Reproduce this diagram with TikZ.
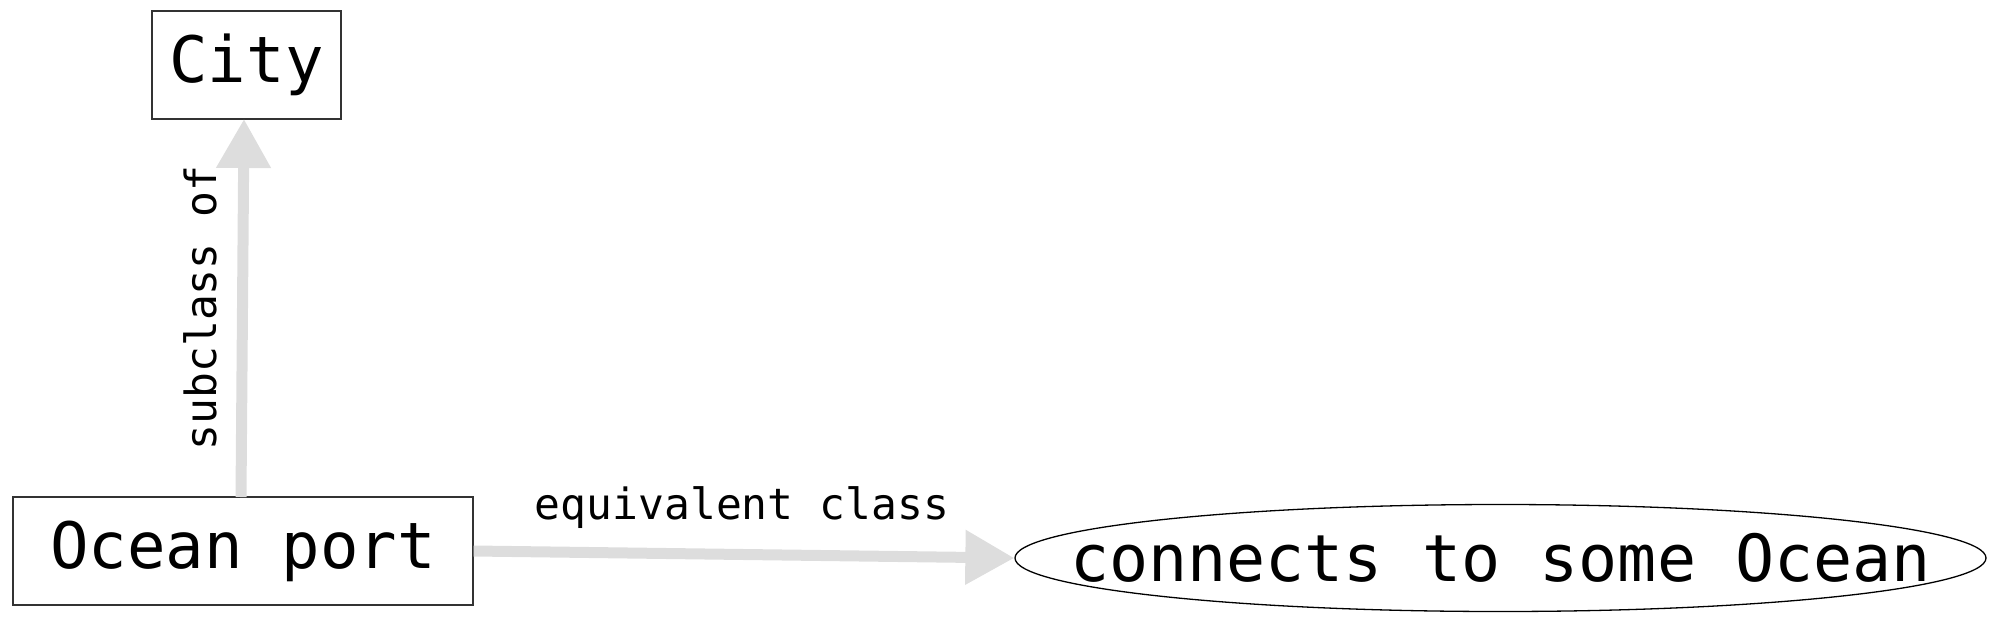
\documentclass[tikz,border=0pt]{standalone}
\usepackage{fontspec}
\newfontfamily\monofnt{DejaVu Sans Mono}
\usetikzlibrary{arrows.meta,shapes.geometric}
\definecolor{edgegray}{HTML}{DDDDDD}
\definecolor{boxline}{HTML}{333333}
\tikzset{
  classbox/.style={draw=boxline, line width=1.3pt, rectangle, inner sep=0pt, font=\monofnt\fontsize{64}{70}\selectfont},
  classell/.style={draw=black, line width=1.3pt, ellipse, inner sep=0pt, font=\monofnt\fontsize{65}{70}\selectfont},
  relarrow/.style={draw=edgegray, line width=11pt, -{Triangle[length=49pt,width=52pt]}},
  rellabel/.style={font=\monofnt\fontsize{43}{48}\selectfont, inner sep=0pt}
}
\begin{document}
\begin{tikzpicture}[x=1pt,y=-1pt]
\useasboundingbox (0,0) rectangle (2000,627);
\node[classbox, minimum width=189pt, minimum height=108pt] (city) at (246.5,65) {City};
\node[classbox, minimum width=460pt, minimum height=108pt] (port) at (243,551) {Ocean port};
\node[classell, minimum width=971pt, minimum height=107pt] (ocean) at (1500.5,558) {\makebox[0pt][c]{connects to some Ocean}};
\coordinate (pa) at (241,497);
\coordinate (ca) at (244,119);
\draw[relarrow] (pa) -- (ca);
\draw[relarrow] (port.east) -- (ocean.west);
\node[rellabel, rotate=90] (lsub) at (200,308) {subclass of};
\node[rellabel] (leq) at (742,508) {equivalent class};
\end{tikzpicture}
\end{document}
